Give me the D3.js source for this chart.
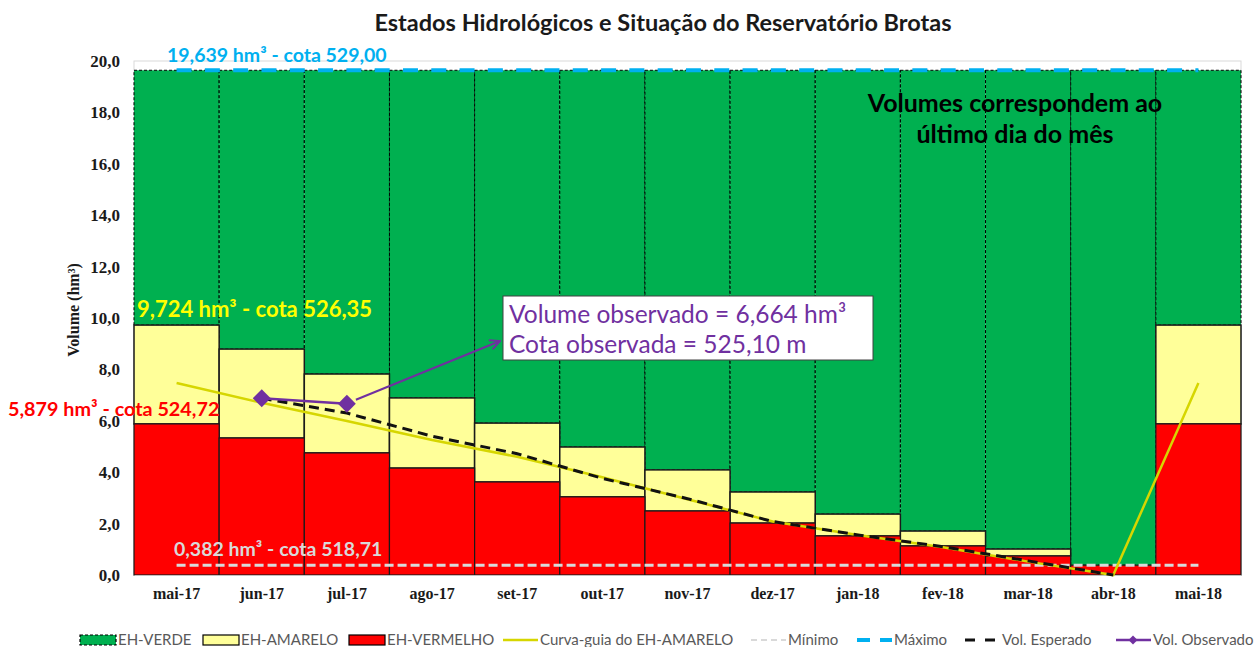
<!DOCTYPE html>
<html>
<head>
<meta charset="utf-8">
<script src="https://cdn.jsdelivr.net/npm/d3@7"></script>
<style>
body { margin: 0; background: #fff; }
svg { display: block; }
</style>
</head>
<body>
<svg></svg>
<script>
// dados (hm3)
var meses = ["mai-17", "jun-17", "jul-17", "ago-17", "set-17", "out-17", "nov-17",
             "dez-17", "jan-18", "fev-18", "mar-18", "abr-18", "mai-18"];
var limVermelho = [5.879, 5.33, 4.75, 4.16, 3.62, 3.04, 2.49, 2.02, 1.52, 1.13, 0.74, 0.382, 5.879];
var limAmarelo = [9.724, 8.79, 7.82, 6.89, 5.91, 4.98, 4.09, 3.23, 2.37, 1.71, 1.01, 0.382, 9.724];
var volMaximo = 19.639;
var volMinimo = 0.382;
var curvaGuia = [7.47, 6.70, 5.99, 5.25, 4.60, 3.80, 2.95, 2.08, 1.56, 1.08, 0.52, 0.0, 7.47];
var volEsperado = [null, 6.88, 6.30, 5.40, 4.72, 3.76, 2.97, 2.08, 1.56, 1.10, 0.55, 0.0, null];
var volObservado = [null, 6.88, 6.664, null, null, null, null, null, null, null, null, null, null];
var yTicks = [0, 2, 4, 6, 8, 10, 12, 14, 16, 18, 20];
var legendNames = ["EH-VERDE", "EH-AMARELO", "EH-VERMELHO", "Curva-guia do EH-AMARELO",
                   "Mínimo", "Máximo", "Vol. Esperado", "Vol. Observado"];

window.onload = function(){
    var svg = d3.select("svg")
        .attr("width", 1258)
        .attr("height", 647);

    var x = d3.scaleBand().domain(meses).range([134, 1241]).padding(0);
    var y = d3.scaleLinear().domain([0, 20]).range([575, 61]);
    var cx = function(i){ return x(meses[i]) + x.bandwidth() / 2; };
    var fmt = function(d){ return d3.format(".1f")(d).replace(".", ","); };

    // borda da area do grafico
    svg.append("rect")
        .attr("x", 134).attr("y", y(20))
        .attr("width", 1107).attr("height", y(0) - y(20))
        .attr("fill", "none").attr("stroke", "#d9d9d9");

    // barras empilhadas
    svg.selectAll(".verde")
        .data(meses).enter()
        .append("rect")
        .attr("x", function(d){ return x(d); })
        .attr("y", y(volMaximo))
        .attr("width", x.bandwidth())
        .attr("height", function(d, i){ return y(limAmarelo[i]) - y(volMaximo); })
        .attr("fill", "#00b050")
        .attr("stroke", "#000")
        .attr("stroke-width", 1)
        .attr("stroke-dasharray", "3,2");

    svg.selectAll(".amarelo")
        .data(meses).enter()
        .append("rect")
        .attr("x", function(d){ return x(d); })
        .attr("y", function(d, i){ return y(limAmarelo[i]); })
        .attr("width", x.bandwidth())
        .attr("height", function(d, i){ return y(limVermelho[i]) - y(limAmarelo[i]); })
        .attr("fill", "#ffff99")
        .attr("stroke", "#1a1a1a")
        .attr("stroke-width", 1.5);

    svg.selectAll(".vermelho")
        .data(meses).enter()
        .append("rect")
        .attr("x", function(d){ return x(d); })
        .attr("y", function(d, i){ return y(limVermelho[i]); })
        .attr("width", x.bandwidth())
        .attr("height", function(d, i){ return y(0) - y(limVermelho[i]); })
        .attr("fill", "#ff0000")
        .attr("stroke", "#1a1a1a")
        .attr("stroke-width", 1.2);

    // eixos
    var yAxis = svg.append("g")
        .attr("transform", "translate(134,0)")
        .call(d3.axisLeft(y).tickValues(yTicks).tickSize(0).tickPadding(14).tickFormat(fmt));
    yAxis.select(".domain").remove();
    yAxis.selectAll("text").attr("font-size", 17);

    var xAxis = svg.append("g")
        .attr("transform", "translate(0," + y(0) + ")")
        .call(d3.axisBottom(x).tickSize(0).tickPadding(13));
    xAxis.select(".domain").attr("stroke", "#bfbfbf");
    xAxis.selectAll("text").attr("font-size", 16);

    svg.selectAll(".tick text")
        .attr("font-family", "'Liberation Serif', serif")
        .attr("font-weight", "bold")
        .attr("fill", "#1a1a1a");

    svg.append("text")
        .attr("transform", "translate(79,310) rotate(-90)")
        .attr("text-anchor", "middle")
        .attr("font-family", "'Liberation Serif', serif")
        .attr("font-weight", "bold")
        .attr("font-size", 16)
        .attr("fill", "#1a1a1a")
        .text("Volume (hm³)");

    // linhas
    var line = d3.line()
        .defined(function(d){ return d != null; })
        .x(function(d, i){ return cx(i); })
        .y(function(d){ return y(d); });

    svg.append("path")
        .attr("d", line(meses.map(function(){ return volMinimo; })))
        .attr("fill", "none").attr("stroke", "#d9d9d9")
        .attr("stroke-width", 3).attr("stroke-dasharray", "9,4");

    svg.append("path")
        .attr("d", line(meses.map(function(){ return volMaximo; })))
        .attr("fill", "none").attr("stroke", "#00b0f0")
        .attr("stroke-width", 4).attr("stroke-dasharray", "15,13.3");

    svg.append("path")
        .attr("d", line(curvaGuia))
        .attr("fill", "none").attr("stroke", "#d6d600")
        .attr("stroke-width", 2.5);

    svg.append("path")
        .attr("d", line(volEsperado))
        .attr("fill", "none").attr("stroke", "#111")
        .attr("stroke-width", 3).attr("stroke-dasharray", "10,6");

    svg.append("path")
        .attr("d", line(volObservado))
        .attr("fill", "none").attr("stroke", "#7030a0")
        .attr("stroke-width", 2.5);

    var pontosObs = volObservado
        .map(function(v, i){ return { v: v, i: i }; })
        .filter(function(p){ return p.v != null; });

    svg.selectAll(".obs")
        .data(pontosObs).enter()
        .append("path")
        .attr("d", d3.symbol(d3.symbolSquare, 160))
        .attr("transform", function(p){
            return "translate(" + cx(p.i) + "," + y(p.v) + ") rotate(45)";
        })
        .attr("fill", "#7030a0");

    // rotulos dos limites
    var lbl = function(txt, xp, yp, size, color){
        svg.append("text")
            .attr("x", xp).attr("y", yp)
            .attr("font-family", "Lato, sans-serif")
            .attr("font-weight", "bold")
            .attr("font-size", size)
            .attr("fill", color)
            .text(txt);
    };
    lbl("19,639 hm³ - cota 529,00", 167, y(volMaximo) - 8, 19.5, "#00b0f0");
    lbl("9,724 hm³ - cota 526,35", 137, y(limAmarelo[0]) - 8, 22, "#ffff00");
    lbl("5,879 hm³ - cota 524,72", 8, y(limVermelho[0]) - 8, 19.8, "#ff0000");
    lbl("0,382 hm³ - cota 518,71", 174, y(volMinimo) - 9, 19.5, "#d9d9d9");

    svg.append("text")
        .attr("x", 1015).attr("y", 112)
        .attr("text-anchor", "middle")
        .attr("font-family", "Lato, sans-serif")
        .attr("font-weight", "bold")
        .attr("font-size", 25)
        .attr("fill", "#000")
        .selectAll("tspan")
        .data(["Volumes correspondem ao", "último dia do mês"]).enter()
        .append("tspan")
        .attr("x", 1015)
        .attr("dy", function(d, i){ return i == 0 ? 0 : 31; })
        .text(function(d){ return d; });

    // caixa do volume observado
    svg.append("defs").append("marker")
        .attr("id", "seta")
        .attr("viewBox", "0 0 12 12")
        .attr("refX", 11).attr("refY", 6)
        .attr("markerWidth", 12).attr("markerHeight", 12)
        .attr("markerUnits", "userSpaceOnUse")
        .attr("orient", "auto")
        .append("path")
        .attr("d", "M1,1 L11,6 L1,11")
        .attr("fill", "none").attr("stroke", "#7030a0").attr("stroke-width", 2);

    svg.append("line")
        .attr("x1", cx(2) + 9).attr("y1", y(volObservado[2]) - 4)
        .attr("x2", 500).attr("y2", 341)
        .attr("stroke", "#7030a0").attr("stroke-width", 2)
        .attr("marker-end", "url(#seta)");

    svg.append("rect")
        .attr("x", 503).attr("y", 296)
        .attr("width", 370).attr("height", 64)
        .attr("fill", "#fff").attr("stroke", "#404040").attr("stroke-width", 1);

    svg.append("text")
        .attr("font-family", "Lato, sans-serif")
        .attr("font-size", 24.5)
        .attr("fill", "#7030a0")
        .selectAll("tspan")
        .data(["Volume observado = 6,664 hm³", "Cota observada = 525,10 m"]).enter()
        .append("tspan")
        .attr("x", 509)
        .attr("y", function(d, i){ return 323 + i * 30; })
        .text(function(d){ return d; });

    // titulo
    svg.append("text")
        .attr("x", 663).attr("y", 31)
        .attr("text-anchor", "middle")
        .attr("font-family", "Lato, sans-serif")
        .attr("font-weight", "bold")
        .attr("font-size", 23.5)
        .attr("fill", "#1a1a1a")
        .text("Estados Hidrológicos e Situação do Reservatório Brotas");

    // legenda
    var legendX = [80, 203, 349, 502, 750, 856, 964, 1115];
    var legend = svg.append("g").attr("transform", "translate(0,640)");
    legendNames.forEach(function(name, i){
        var g = legend.append("g").attr("transform", "translate(" + legendX[i] + ",0)");
        if (i < 3) {
            g.append("rect")
                .attr("x", 0).attr("y", -5).attr("width", 36).attr("height", 10)
                .attr("fill", ["#00b050", "#ffff99", "#ff0000"][i])
                .attr("stroke", "#000").attr("stroke-width", 1.2)
                .attr("stroke-dasharray", i == 0 ? "3,2" : null);
        } else {
            var stroke = ["#d6d600", "#d9d9d9", "#00b0f0", "#111", "#7030a0"][i - 3];
            var dash = [null, "6,4", "13,10", "10,10", null][i - 3];
            g.append("line")
                .attr("x1", 1).attr("x2", 36).attr("y1", 0).attr("y2", 0)
                .attr("stroke", stroke)
                .attr("stroke-width", [2.5, 2, 4, 3, 2.5][i - 3])
                .attr("stroke-dasharray", dash);
            if (i == 7) {
                g.append("path")
                    .attr("d", d3.symbol(d3.symbolSquare, 40))
                    .attr("transform", "translate(18,0) rotate(45)")
                    .attr("fill", stroke);
            }
        }
        g.append("text")
            .attr("x", 38).attr("y", 5)
            .attr("font-family", "Lato, sans-serif")
            .attr("font-size", 15)
            .attr("fill", "#595959")
            .text(name);
    });
};
</script>
</body>
</html>
